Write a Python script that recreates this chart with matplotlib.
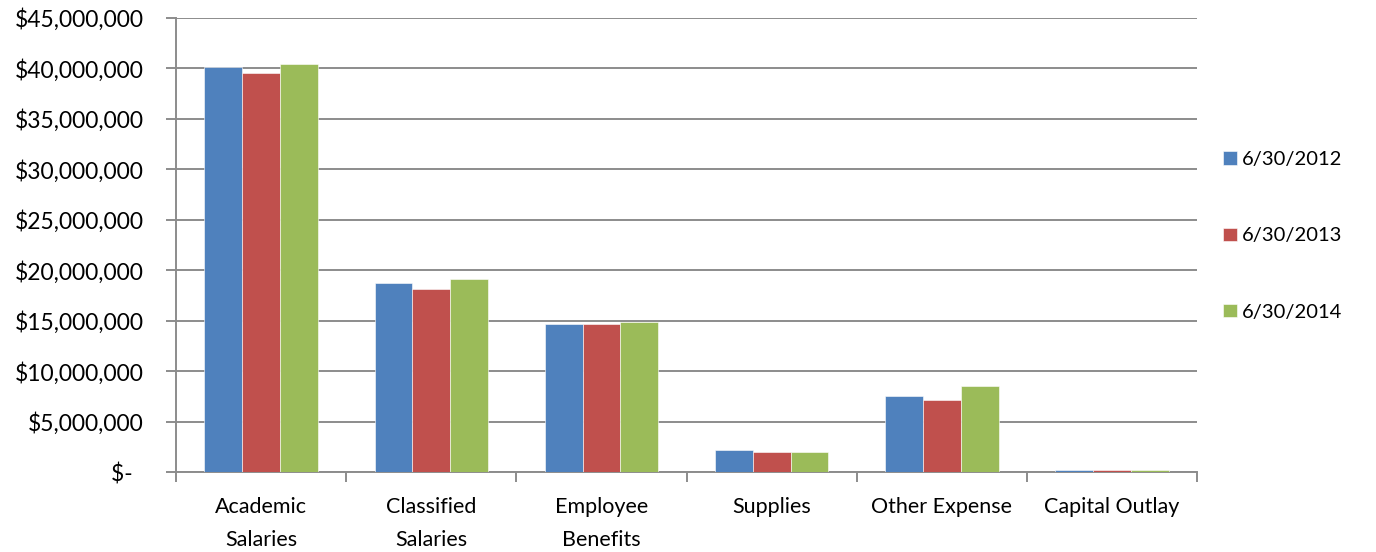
import numpy as np
import matplotlib.pyplot as plt
from matplotlib.ticker import FuncFormatter, FixedLocator

plt.rcParams['font.family'] = ['Lato', 'DejaVu Sans']

categories = ['Academic\nSalaries', 'Classified\nSalaries', 'Employee\nBenefits',
              'Supplies', 'Other Expense', 'Capital Outlay']
series_names = ['6/30/2012', '6/30/2013', '6/30/2014']
fy2012 = [40130000, 18720000, 14670000, 2230000, 7550000, 240000]
fy2013 = [39500000, 18120000, 14670000, 2030000, 7160000, 240000]
fy2014 = [40460000, 19120000, 14900000, 2000000, 8550000, 200000]
colors = ['#4F81BD', '#C0504D', '#9BBB59']

fig = plt.figure(figsize=(13.76, 5.52), dpi=100)
ax = fig.add_axes([0.1279, 0.1449, 0.870 - 0.1279, 0.9674 - 0.1449])

x = np.arange(len(categories))
w = 1 / 4.5
for i, (vals, name) in enumerate(zip([fy2012, fy2013, fy2014], series_names)):
    ax.bar(x + (i - 1) * w, vals, width=w, color=colors[i], label=name,
           edgecolor='white', linewidth=0.4, zorder=3)

ax.set_xlim(-0.5, len(categories) - 0.5)
ax.set_ylim(0, 45000000)
ax.set_yticks(np.arange(0, 45000001, 5000000))


def money(v, pos):
    if v == 0:
        return '$-  '
    return '${:,.0f}'.format(v)


ax.yaxis.set_major_formatter(FuncFormatter(money))
ax.grid(axis='y', color='#8c8c8c', linewidth=1.4, zorder=0)

ax.set_xticks(x)
ax.set_xticklabels(categories, fontsize=15.5, linespacing=1.8)
ax.xaxis.set_minor_locator(FixedLocator(np.arange(-0.5, len(categories), 1)))
ax.tick_params(axis='x', which='major', length=0, pad=18)
ax.tick_params(axis='x', which='minor', length=7, width=1.4, color='#8c8c8c')
ax.tick_params(axis='y', length=7, width=1.4, color='#8c8c8c', labelsize=16.5, pad=16)

for s in ['top', 'right']:
    ax.spines[s].set_visible(False)
for s in ['left', 'bottom']:
    ax.spines[s].set_color('#8c8c8c')
    ax.spines[s].set_linewidth(1.4)

ax.legend(loc='center left', bbox_to_anchor=(1.008, 0.52), frameon=False,
          fontsize=14.5, handlelength=0.65, handleheight=0.65, handletextpad=0.25,
          labelspacing=2.95)

fig.savefig('out.png', dpi=100)
